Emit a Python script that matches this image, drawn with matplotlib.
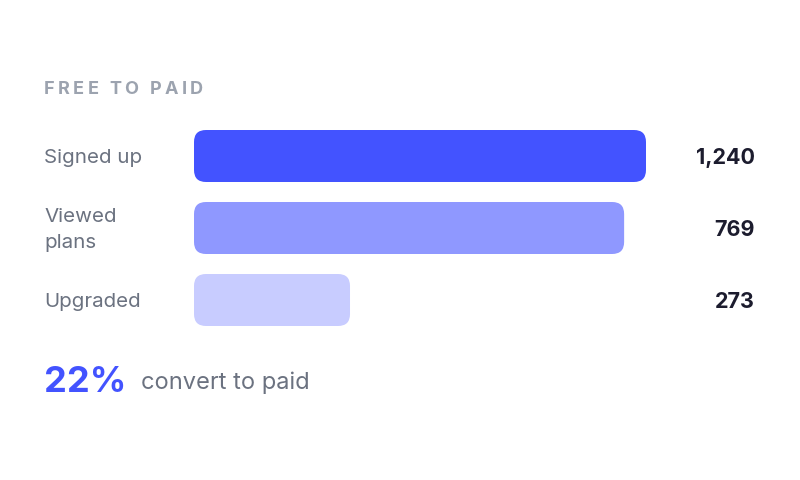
"""Free-to-paid funnel card."""

import matplotlib

matplotlib.use("Agg")
import matplotlib.pyplot as plt
from matplotlib.patches import FancyBboxPatch

plt.rcParams["font.family"] = ["Inter", "DejaVu Sans"]

# =========================
# data
# =========================
TITLE = "FREE TO PAID"
STAGES = ["Signed up", "Viewed\nplans", "Upgraded"]
COUNTS = [1240, 769, 273]
# bar lengths as drawn in the card (same units as counts)
BAR_LENGTHS = [1240, 1180, 428]
BAR_COLORS = ["#4353ff", "#8f98ff", "#c8ccff"]
CONVERT_PCT = "22%"
CONVERT_TEXT = "convert to paid"

W, H = 800, 480


def px_rect(x0, y0, x1, y1):
    """pixel box (top-left origin) -> figure fraction rect"""
    return [x0 / W, 1 - y1 / H, (x1 - x0) / W, (y1 - y0) / H]


def spaced_text(fig, x_px, y_px, text, spacing_px, **kw):
    """letter-spaced text, one char at a time"""
    renderer = fig.canvas.get_renderer()
    probe = fig.text(0, 0, "i i", **kw)
    probe2 = fig.text(0, 0, "ii", **kw)
    space_w = probe.get_window_extent(renderer).width - probe2.get_window_extent(renderer).width
    probe.remove()
    probe2.remove()
    x = x_px
    for ch in text:
        if ch == " ":
            x += space_w + spacing_px
            continue
        t = fig.text(x / W, 1 - y_px / H, ch, va="center", ha="left", **kw)
        x += t.get_window_extent(renderer).width + spacing_px


def main() -> None:
    fig = plt.figure(figsize=(W / 100, H / 100), dpi=100)
    fig.patch.set_facecolor("white")

    # bar area: x 0..max maps to pixel 194..646, rows 72 px apart
    ax = fig.add_axes(px_rect(194, 120, 646, 336))
    ax.set_xlim(0, max(BAR_LENGTHS))
    ax.set_ylim(len(STAGES) - 0.5, -0.5)
    ax.axis("off")

    x_per_px = max(BAR_LENGTHS) / 452
    y_per_px = 1 / 72
    bar_h = 52 * y_per_px
    radius = 12 * x_per_px
    for i, (length, color) in enumerate(zip(BAR_LENGTHS, BAR_COLORS)):
        ax.add_patch(
            FancyBboxPatch(
                (0, i - bar_h / 2),
                length,
                bar_h,
                boxstyle=f"round,pad=0,rounding_size={radius}",
                mutation_aspect=y_per_px / x_per_px,
                facecolor=color,
                edgecolor="none",
            )
        )

    # stage labels and counts (nudged 2 px down to sit like the card's text)
    nudge = 2 / H
    for i, (stage, count) in enumerate(zip(STAGES, COUNTS)):
        y_fig = ax.transData.transform((0, i))[1] / fig.dpi / fig.get_figheight() - nudge
        fig.text(44 / W, y_fig, stage, ha="left", va="center", fontsize=14.8,
                 color="#6b7280", linespacing=1.55)
        fig.text(755 / W, y_fig, f"{count:,}", ha="right", va="center", fontsize=15.5,
                 fontweight="bold", color="#1c1c2e")

    spaced_text(fig, 44, 89, TITLE, 3.3, fontsize=13, fontweight="bold", color="#9ca3af")

    fig.text(44 / W, 1 - 382 / H, CONVERT_PCT, ha="left", va="center", fontsize=26,
             fontweight="bold", color="#4353ff")
    fig.text(141 / W, 1 - 383 / H, CONVERT_TEXT, ha="left", va="center", fontsize=17,
             color="#6b7280")

    fig.savefig("out.png", dpi=100, facecolor="white")


if __name__ == "__main__":
    main()
